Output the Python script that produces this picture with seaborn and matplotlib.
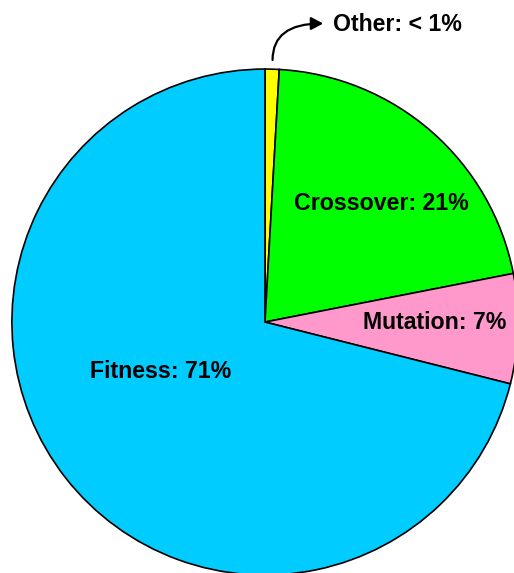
import matplotlib
matplotlib.use("Agg")
import matplotlib.pyplot as plt
import seaborn as sns

# Share of run time per operator
categories = ["Other", "Crossover", "Mutation", "Fitness"]
shares = [0.9, 21, 7, 71]
labels = ["Other: < 1%", "Crossover: 21%", "Mutation: 7%", "Fitness: 71%"]
colors = ["#FFFF00", "#00FF00", "#FF99CC", "#00CCFF"]

sns.set_theme(style="white")
plt.rcParams["font.family"] = ["Liberation Sans", "DejaVu Sans"]

fig = plt.figure(figsize=(5.14, 5.73), dpi=100)
ax = fig.add_axes([0, 0, 1, 1])

wedges, _ = ax.pie(
    shares,
    colors=colors,
    startangle=90,
    counterclock=False,
    radius=1.0,
    wedgeprops=dict(edgecolor="black", linewidth=1.2),
)

# pie of radius 1 centred at (0, 0); axis limits put it off-centre in the frame
ax.set_xlim(-1.047, 0.984)
ax.set_ylim(-0.992, 1.273)
ax.set_aspect("auto")
ax.axis("off")

font = dict(fontsize=16.7, fontweight="bold", color="black")

ax.text(0.458, 0.443, labels[1], ha="center", va="baseline", **font)
ax.text(0.672, -0.028, labels[2], ha="center", va="baseline", **font)
ax.text(-0.411, -0.221, labels[3], ha="center", va="baseline", **font)

# curved callout arrow for the tiny slice
ax.annotate(
    "",
    xy=(0.230, 1.180),
    xytext=(0.030, 1.036),
    arrowprops=dict(
        arrowstyle="-|>,head_length=0.6,head_width=0.32",
        connectionstyle="angle3,angleA=90,angleB=0",
        color="black", lw=1.6, shrinkA=0, shrinkB=0,
    ),
)
ax.text(0.269, 1.150, labels[0], ha="left", va="baseline", **font)

fig.savefig("out.png", dpi=100)
